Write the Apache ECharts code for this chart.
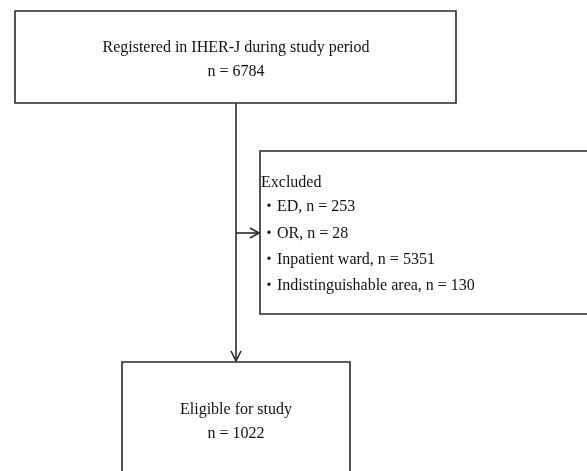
<!DOCTYPE html>
<html>
<head>
<meta charset="utf-8">
<script src="https://cdn.jsdelivr.net/npm/echarts@6/dist/echarts.min.js"></script>
<style>
html,body{margin:0;padding:0;background:#fff;}
#chart{width:587px;height:471px;}
</style>
</head>
<body>
<div id="chart"></div>
<script>
const registeredLabel = 'Registered in IHER-J during study period';
const registeredN = 6784;
const excludedTitle = 'Excluded';
const excludedCategories = ['ED', 'OR', 'Inpatient ward', 'Indistinguishable area'];
const excludedN = [253, 28, 5351, 130];
const eligibleLabel = 'Eligible for study';
const eligibleN = 1022;

const FONT = '"Liberation Serif", "Times New Roman", "Noto Sans CJK JP", serif';
const LINE = '#2a2a2a';
const LW = 1.6;
const textStyle = (extra) => Object.assign({ fill: '#111', fontFamily: FONT, fontSize: 16 }, extra);

const chart = echarts.init(document.getElementById('chart'), null, { renderer: 'canvas' });

const elements = [];
// top box
elements.push({ type: 'rect', shape: { x: 15, y: 11, width: 441, height: 92 }, style: { fill: '#fff', stroke: LINE, lineWidth: LW } });
elements.push({ type: 'text', x: 236, y: 47.5, style: textStyle({ text: registeredLabel, align: 'center', verticalAlign: 'middle' }) });
elements.push({ type: 'text', x: 236, y: 71.5, style: textStyle({ text: 'n = ' + registeredN, align: 'center', verticalAlign: 'middle' }) });

// vertical connector
elements.push({ type: 'line', shape: { x1: 236, y1: 103, x2: 236, y2: 361 }, style: { stroke: LINE, lineWidth: LW } });
elements.push({ type: 'polyline', shape: { points: [[231, 351], [236, 361], [241, 351]] }, style: { stroke: LINE, lineWidth: LW, fill: null } });

// horizontal connector to excluded
elements.push({ type: 'line', shape: { x1: 236, y1: 233, x2: 259, y2: 233 }, style: { stroke: LINE, lineWidth: LW } });
elements.push({ type: 'polyline', shape: { points: [[250, 228], [259, 233], [250, 238]] }, style: { stroke: LINE, lineWidth: LW, fill: null } });

// excluded box
elements.push({ type: 'rect', shape: { x: 260, y: 151, width: 340, height: 163 }, style: { fill: '#fff', stroke: LINE, lineWidth: LW } });
elements.push({ type: 'text', x: 261, y: 183, style: textStyle({ text: excludedTitle, align: 'left', verticalAlign: 'middle' }) });
excludedCategories.forEach((c, i) => {
  elements.push({ type: 'text', x: 261, y: 207 + i * 26.3, style: textStyle({ text: '・' + c + ', n = ' + excludedN[i], align: 'left', verticalAlign: 'middle' }) });
});

// bottom box
elements.push({ type: 'rect', shape: { x: 122, y: 362, width: 228, height: 130 }, style: { fill: '#fff', stroke: LINE, lineWidth: LW } });
elements.push({ type: 'text', x: 236, y: 410, style: textStyle({ text: eligibleLabel, align: 'center', verticalAlign: 'middle' }) });
elements.push({ type: 'text', x: 236, y: 434, style: textStyle({ text: 'n = ' + eligibleN, align: 'center', verticalAlign: 'middle' }) });

chart.setOption({
  backgroundColor: '#fff',
  animation: false,
  graphic: { elements: elements }
});
</script>
</body>
</html>
